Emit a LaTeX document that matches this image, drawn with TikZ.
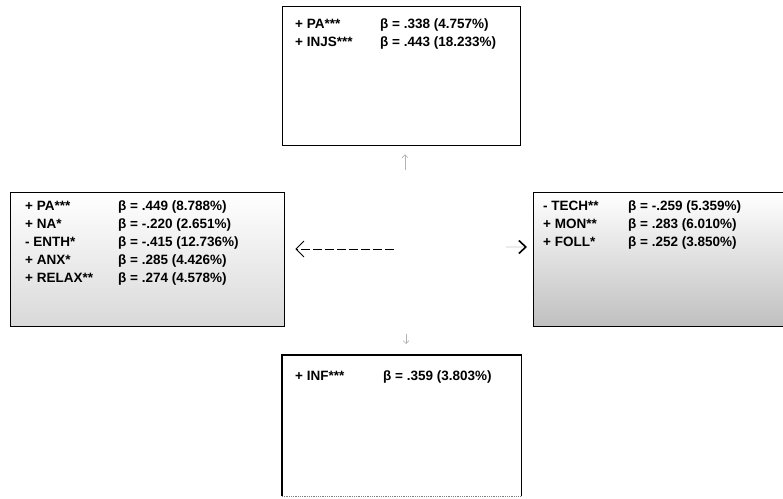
\documentclass[tikz,border=0pt]{standalone}
\usepackage{fontspec}
\setmainfont{Liberation Sans}
\usepackage{tikz}
\usetikzlibrary{arrows.meta}

% one line of a box: sign, variable, beta, share
\newcommand{\betarow}[4]{#1 #2 & β = #3 (#4\%)}

\begin{document}
\begin{tikzpicture}[x=1pt,y=-1pt,
  box/.style={draw,line width=1.4pt,anchor=north west,inner sep=0pt},
  txt/.style={anchor=base west,inner sep=0pt,font=\bfseries\fontsize{13.5}{18.2}\selectfont},
  faint/.style={gray!60,line width=0.6pt,-{Straight Barb[length=3pt,width=6pt]}}]
  \useasboundingbox (0,0) rectangle (783,498);

  \node[box,minimum width=238pt,minimum height=139pt] (top_box) at (282,6) {};
  \node[box,minimum width=274pt,minimum height=134pt,top color=white,bottom color=gray!30] (left_box) at (10,192) {};
  \node[box,minimum width=256pt,minimum height=134pt,top color=white,bottom color=gray!50] (right_box) at (533,192) {};
  \node[box,draw=none,minimum width=238pt,minimum height=140pt] (bot_box) at (282,355) {};
  \draw[line width=1.4pt] (bot_box.south west) -- (bot_box.north west) -- (bot_box.north east) -- (bot_box.south east);
  \draw[gray,densely dotted,line width=0.8pt] (bot_box.south west) -- (bot_box.south east);

  \node[txt] (top_txt) at (295,28) {\begin{tabular}[t]{@{}p{85pt}@{}l@{}}
    \betarow{+}{PA***}{.338}{4.757}\\
    \betarow{+}{INJS***}{.443}{18.233}
  \end{tabular}};
  \node[txt] (left_txt) at (25,210) {\begin{tabular}[t]{@{}p{93pt}@{}l@{}}
    \betarow{+}{PA***}{.449}{8.788}\\
    \betarow{+}{NA*}{-.220}{2.651}\\
    \betarow{-}{ENTH*}{-.415}{12.736}\\
    \betarow{+}{ANX*}{.285}{4.426}\\
    \betarow{+}{RELAX**}{.274}{4.578}
  \end{tabular}};
  \node[txt] (right_txt) at (543,210) {\begin{tabular}[t]{@{}p{85pt}@{}l@{}}
    \betarow{-}{TECH**}{-.259}{5.359}\\
    \betarow{+}{MON**}{.283}{6.010}\\
    \betarow{+}{FOLL*}{.252}{3.850}
  \end{tabular}};
  \node[txt] (bot_txt) at (295,380) {\begin{tabular}[t]{@{}p{88pt}@{}l@{}}
    \betarow{+}{INF***}{.359}{3.803}
  \end{tabular}};

  \coordinate (mid_l) at (394,249);
  \coordinate (mid_r) at (506,247);
  \coordinate (mark_t) at (405,170);
  \coordinate (mark_b) at (406,334);

  \draw[line width=0.8pt,dash pattern=on 9pt off 3pt,-{Straight Barb[length=8pt,width=16pt]},shorten >=10pt]
    (mid_l) -- (mid_l -| left_box.east);
  \draw[draw=gray!15,line width=1.6pt,-{Straight Barb[length=7pt,width=13pt,color=black]},shorten >=6pt]
    (mid_r) -- (mid_r -| right_box.west);
  \draw[faint,shorten >=8pt] (mark_t) -- (mark_t |- top_box.south);
  \draw[faint,shorten >=11pt] (mark_b) -- (mark_b |- bot_box.north);
\end{tikzpicture}
\end{document}
